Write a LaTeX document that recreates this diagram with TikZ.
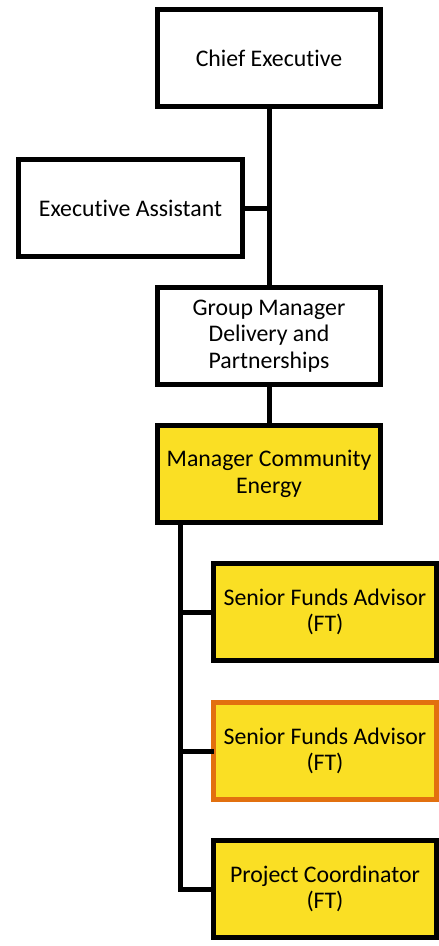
\documentclass[tikz,border=0pt]{standalone}
\usepackage{fontspec}
\setmainfont{Carlito}[Ligatures=CommonOff]
\definecolor{posyellow}{HTML}{FADF24}
\definecolor{posorange}{HTML}{E2700F}
\tikzset{
  post/.style={draw=black, line width=5pt, fill=white, align=center,
    minimum width=223pt, minimum height=97pt, inner sep=2pt,
    font=\fontsize{23.8}{26.7}\selectfont},
  team/.style={post, fill=posyellow},
  vacant/.style={team, draw=posorange},
  link/.style={line width=5pt, line cap=rect}
}
\begin{document}
\begin{tikzpicture}[x=1pt, y=-1pt]
  \useasboundingbox (0,0) rectangle (439,946);
  \draw
    (269,58) node[post] (ce){Chief Executive}
    (130.5,208) node[post, minimum width=224pt] (ea){Executive Assistant}
    (269,336) node[post] (gm){Group Manager\\Delivery and\\Partnerships}
    (269,474) node[team] (mce){Manager Community\\Energy}
    (325,612) node[team] (sfa1){Senior Funds Advisor\\(FT)}
    (325,751) node[vacant] (sfa2){Senior Funds Advisor\\(FT)}
    (325,889) node[team] (pc){Project Coordinator\\(FT)};
  \coordinate (spine) at (180,889);
  \begin{scope}[link]
    \draw (ce.south) to (gm.north);
    \draw (ea.east) to (ea.east -| ce.south);
    \draw (gm.south) to (mce.north);
    \draw (mce.south -| spine) |- (pc.west);
    \draw (sfa1.west -| spine) to (sfa1.west);
    \draw (sfa2.west -| spine) to (sfa2.west);
  \end{scope}
\end{tikzpicture}
\end{document}
